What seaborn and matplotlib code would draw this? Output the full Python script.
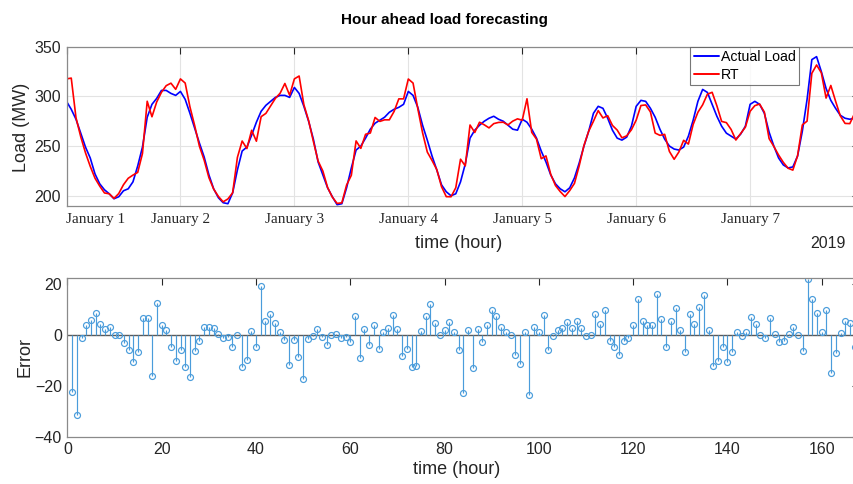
import numpy as np
import pandas as pd
import matplotlib
matplotlib.use("Agg")
import matplotlib.pyplot as plt
import seaborn as sns

# ---------------- data ----------------
actual = [295, 287, 277, 263, 249, 238, 222, 212, 206, 202, 197, 199, 205, 207, 214, 230,
          249, 279, 292, 298, 306, 306, 303, 301, 305, 297, 283, 268, 253, 239, 221, 207,
          198, 193, 192, 203, 226, 245, 249, 261, 274, 285, 291, 295, 299, 301, 301, 299,
          309, 303, 290, 275, 257, 234, 221, 208, 199, 191, 192, 208, 228, 246, 250, 258,
          267, 273, 276, 279, 284, 287, 289, 292, 305, 301, 289, 271, 256, 240, 226, 211,
          204, 200, 202, 214, 232, 258, 266, 271, 275, 278, 280, 277, 275, 271, 267, 266,
          277, 274, 267, 258, 245, 234, 221, 212, 207, 204, 208, 218, 233, 250, 265, 283,
          290, 288, 278, 266, 258, 256, 259, 270, 290, 296, 295, 288, 279, 267, 257, 250,
          247, 246, 249, 260, 276, 295, 307, 304, 292, 280, 270, 263, 260, 257, 262, 270,
          292, 295, 292, 283, 264, 250, 238, 231, 228, 229, 240, 265, 297, 337, 340, 325,
          308, 296, 288, 281, 278, 277, 278, 279]

rt = [317.6, 318.4, 278.5, 259.4, 243.2, 229.6, 217.7, 209.7, 202.8, 202.0, 197.3, 202.2,
      211.1, 217.6, 220.8, 223.5, 242.5, 295.1, 279.5, 294.4, 304.1, 310.8, 313.3, 307.1,
      317.6, 313.4, 289.5, 270.6, 249.8, 235.8, 218.2, 206.7, 199.3, 193.9, 196.8, 203.0,
      238.6, 255.1, 247.5, 265.9, 254.9, 279.6, 282.9, 290.5, 298.0, 303.2, 313.0, 301.2,
      317.6, 320.5, 291.7, 275.6, 254.8, 234.9, 224.9, 208.3, 198.6, 192.3, 192.9, 210.8,
      220.6, 255.2, 247.7, 261.9, 263.1, 278.8, 274.8, 276.4, 276.4, 284.8, 297.5, 297.5,
      317.5, 313.4, 287.7, 263.5, 244.0, 235.5, 226.3, 209.1, 199.1, 199.0, 208.1, 236.8,
      230.1, 271.2, 263.7, 274.0, 271.4, 268.3, 272.6, 273.8, 274.0, 271.3, 275.1, 277.4,
      276.0, 297.6, 263.8, 257.0, 237.3, 240.1, 221.6, 210.3, 204.2, 199.2, 205.2, 212.5,
      230.2, 250.6, 265.0, 275.0, 285.7, 278.3, 280.6, 270.8, 266.1, 258.3, 260.3, 266.4,
      276.1, 290.8, 291.4, 284.4, 263.1, 260.8, 261.8, 244.6, 236.7, 244.1, 255.8, 252.0,
      271.7, 284.0, 291.5, 302.2, 304.1, 290.5, 274.8, 273.6, 266.7, 256.1, 262.6, 269.0,
      285.0, 290.7, 292.3, 284.2, 257.5, 249.6, 241.0, 233.6, 227.7, 225.8, 240.3, 271.3,
      275.1, 323.2, 331.6, 323.8, 298.3, 311.0, 295.2, 280.4, 272.8, 272.6, 282.8, 281.0]

error = [-22.6, -31.4, -1.5, 3.6, 5.8, 8.4, 4.3, 2.3, 3.2, 0.0, -0.3, -3.2, -6.1, -10.6,
         -6.8, 6.5, 6.5, -16.1, 12.5, 3.6, 1.9, -4.8, -10.3, -6.1, -12.6, -16.4, -6.5, -2.6,
         3.2, 3.2, 2.8, 0.3, -1.3, -0.9, -4.8, 0.0, -12.6, -10.1, 1.5, -4.9, 19.1, 5.4, 8.1,
         4.5, 1.0, -2.2, -12.0, -2.2, -8.6, -17.5, -1.7, -0.6, 2.2, -0.9, -3.9, -0.3, 0.4,
         -1.3, -0.9, -2.8, 7.4, -9.2, 2.3, -3.9, 3.9, -5.8, 1.2, 2.6, 7.6, 2.2, -8.5, -5.5,
         -12.5, -12.4, 1.3, 7.5, 12.0, 4.5, -0.3, 1.9, 4.9, 1.0, -6.1, -22.8, 1.9, -13.2,
         2.3, -3.0, 3.6, 9.7, 7.4, 3.2, 1.0, -0.3, -8.1, -11.4, 1.0, -23.6, 3.2, 1.0, 7.7,
         -6.1, -0.6, 1.7, 2.8, 4.8, 2.8, 5.5, 2.8, -0.6, 0.0, 8.0, 4.3, 9.7, -2.6, -4.8,
         -8.1, -2.3, -1.3, 3.6, 13.9, 5.2, 3.6, 3.6, 15.9, 6.2, -4.8, 5.4, 10.3, 1.9, -6.8,
         8.0, 4.3, 11.0, 15.5, 1.8, -12.1, -10.5, -4.8, -10.6, -6.7, 0.9, -0.6, 1.0, 7.0,
         4.3, -0.3, -1.2, 6.5, 0.4, -3.0, -2.6, 0.3, 3.2, -0.3, -6.3, 21.9, 13.8, 8.4, 1.2,
         9.7, -15.0, -7.2, 0.6, 5.2, 4.4, -4.8, -2.0]

day_labels = ["January 1", "January 2", "January 3", "January 4",
              "January 5", "January 6", "January 7"]
series_names = ["Actual Load", "RT"]
year_label = "2019"
top_yticks = [200, 250, 300, 350]
bottom_xticks = [0, 20, 40, 60, 80, 100, 120, 140, 160]
bottom_yticks = [-40, -20, 0, 20]

# ---------------- style ----------------
sns.set_theme(style="white")
plt.rcParams["font.family"] = ["Liberation Sans", "DejaVu Sans"]
TXT = "#262626"
SPINE = "#8a8a8a"
STEM = "#4a9cdb"

W, H = 854, 484
fig = plt.figure(figsize=(W / 100, H / 100), dpi=100)


def px(l, t, r, b):
    return [l / W, 1 - b / H, (r - l) / W, (b - t) / H]


ax1 = fig.add_axes(px(66.5, 46.7, 859.3, 205.7))
ax2 = fig.add_axes(px(67.4, 278.3, 859.4, 436.7))

# ---------------- top panel ----------------
n = len(actual)
hours = list(range(n))
df = pd.DataFrame({
    "hour": hours + hours,
    "load": actual + rt,
    "series": [series_names[0]] * n + [series_names[1]] * n,
})
sns.lineplot(data=df, x="hour", y="load", hue="series", hue_order=series_names,
             palette={series_names[0]: "#0000ff", series_names[1]: "#ff0000"},
             linewidth=1.2, ax=ax1)
ax1.set_xlim(0, n - 1)
ax1.set_ylim(190, 350)
ax1.set_yticks(top_yticks)
ax1.set_xticks([24 * i for i in range(len(day_labels))])
ax1.set_xticklabels(day_labels, family=["Liberation Serif", "DejaVu Serif"], fontsize=11)
ax1.get_xticklabels()[0].set_horizontalalignment("left")
ax1.grid(True, color="#e3e3e3", linewidth=0.8)
ax1.set_xlabel("")
ax1.set_ylabel("")
leg = ax1.legend(loc="upper left", bbox_to_anchor=(0.787, 1.0), frameon=True,
                 fancybox=False, edgecolor="#555555", fontsize=10.2,
                 borderpad=0.22, labelspacing=0.3, handlelength=1.8,
                 handletextpad=0.15, borderaxespad=0.0)
leg.get_frame().set_linewidth(0.8)
for line in leg.get_lines():
    line.set_linewidth(1.4)
for t in leg.get_texts():
    t.set_color("black")

# ---------------- bottom panel ----------------
stem_x = list(range(1, len(error) + 1))
markerline, stemlines, baseline = ax2.stem(stem_x, error, basefmt=" ")
plt.setp(markerline, marker="o", markersize=4.3, markerfacecolor="none",
         markeredgecolor=STEM, markeredgewidth=0.85)
plt.setp(stemlines, color=STEM, linewidth=0.85)
ax2.axhline(0, color="#5a5a5a", linewidth=1.0, zorder=1)
ax2.set_xlim(0, 168)
ax2.set_ylim(-40, 22.1)
ax2.set_xticks(bottom_xticks)
ax2.set_yticks(bottom_yticks)

for ax in (ax1, ax2):
    for s in ax.spines.values():
        s.set_color(SPINE)
        s.set_linewidth(0.9)
    ax.tick_params(direction="in", length=5, width=0.8, color=TXT,
                   top=True, right=True, labelcolor=TXT, labelsize=11.5, pad=4)
ax1.tick_params(axis="x", labelsize=11, pad=5)

# ---------------- texts ----------------
fig.text(444 / W, 1 - 20 / H, "Hour ahead load forecasting", ha="center", va="center",
         fontsize=11, fontweight="bold", color="black")
fig.text(459 / W, 1 - 243 / H, "time (hour)", ha="center", va="center",
         fontsize=13, color=TXT)
fig.text(828 / W, 1 - 244 / H, year_label, ha="center", va="center",
         fontsize=11.5, color=TXT)
fig.text(457 / W, 1 - 470 / H, "time (hour)", ha="center", va="center",
         fontsize=13, color=TXT)
fig.text(22 / W, 1 - 127 / H, "Load (MW)", ha="center", va="center", rotation=90,
         fontsize=13, color=TXT)
fig.text(25 / W, 1 - 357 / H, "Error", ha="center", va="center", rotation=90,
         fontsize=13, color=TXT)

fig.savefig("out.png", dpi=100)
